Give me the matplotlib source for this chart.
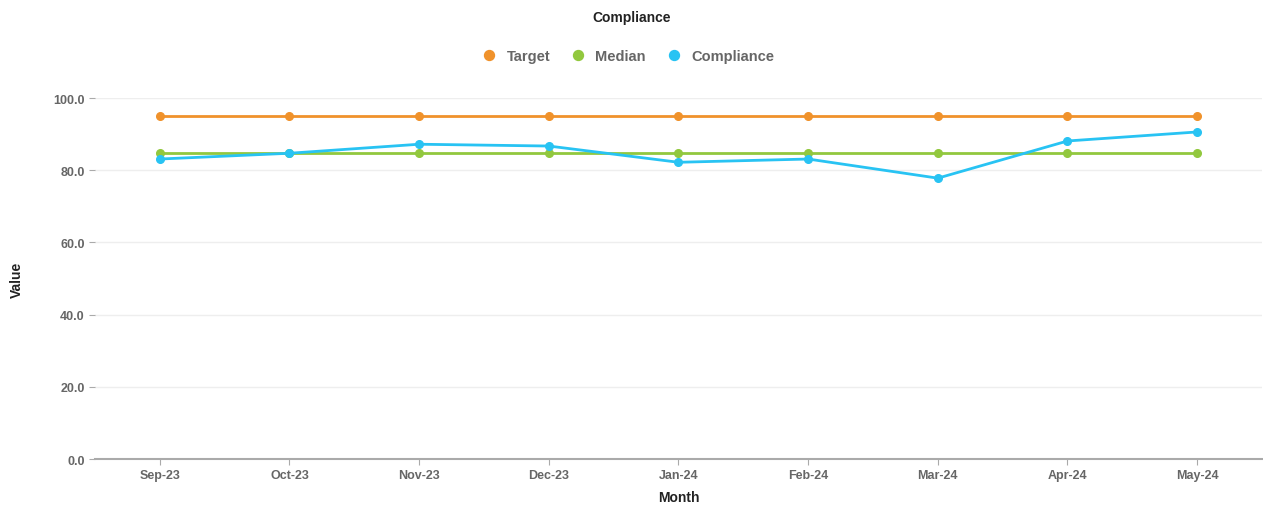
import matplotlib
matplotlib.use("Agg")
import matplotlib.pyplot as plt

months = ["Sep-23", "Oct-23", "Nov-23", "Dec-23", "Jan-24", "Feb-24", "Mar-24", "Apr-24", "May-24"]
target = [95, 95, 95, 95, 95, 95, 95, 95, 95]
median = [84.7, 84.7, 84.7, 84.7, 84.7, 84.7, 84.7, 84.7, 84.7]
compliance = [83.1, 84.7, 87.2, 86.7, 82.2, 83.1, 77.8, 88.1, 90.6]
yticks = [0, 20, 40, 60, 80, 100]

plt.rcParams['font.family'] = ['Liberation Sans', 'DejaVu Sans']

fig = plt.figure(figsize=(12.63, 5.06), dpi=100)
ax = fig.add_axes([0.0752, 0.0909, 0.924, 0.7134])

x = list(range(len(months)))
c_target = "#F0922B"
c_median = "#92C83E"
c_comp = "#28C3F3"
ax.plot(x, target, color=c_target, lw=2, marker="o", ms=5.5, label="Target", zorder=3)
ax.plot(x, median, color=c_median, lw=2, marker="o", ms=5.5, label="Median", zorder=3)
ax.plot(x, compliance, color=c_comp, lw=2, marker="o", ms=5.5, label="Compliance", zorder=4)

ax.set_xlim(-0.5, len(months) - 0.5)
ax.set_ylim(0, 100)
ax.set_yticks(yticks)
ax.set_yticklabels([f"{v:.1f}" for v in yticks])
ax.set_xticks(x)
ax.set_xticklabels(months)
ax.grid(axis="y", color="#eeeeee", lw=1)
ax.set_axisbelow(True)
for s in ["top", "right", "left"]:
    ax.spines[s].set_visible(False)
ax.spines["bottom"].set_color("#aaaaaa")
ax.spines["bottom"].set_linewidth(1.5)
ax.tick_params(axis="both", colors="#aaaaaa", labelcolor="#666666", labelsize=9, length=4)
for lab in ax.get_xticklabels() + ax.get_yticklabels():
    lab.set_fontweight("bold")
ax.set_xlabel("Month", fontsize=10, fontweight="bold", color="#222222", labelpad=6)
ax.set_ylabel("Value", fontsize=10, fontweight="bold", color="#222222")
ax.yaxis.set_label_coords(-0.061, 0.5)

fig.text(0.5, 0.964, "Compliance", ha="center", va="center", fontsize=10, fontweight="bold", color="#222222")
leg = fig.legend(handles=ax.get_lines(), loc="center", bbox_to_anchor=(0.5, 0.887), ncol=3, frameon=False,
                 handlelength=0, handletextpad=1.2, columnspacing=1.9, markerscale=1.3,
                 prop={"weight": "bold", "size": 10.5})
for t in leg.get_texts():
    t.set_color("#666666")

fig.savefig("out.png", dpi=100, facecolor="white")
